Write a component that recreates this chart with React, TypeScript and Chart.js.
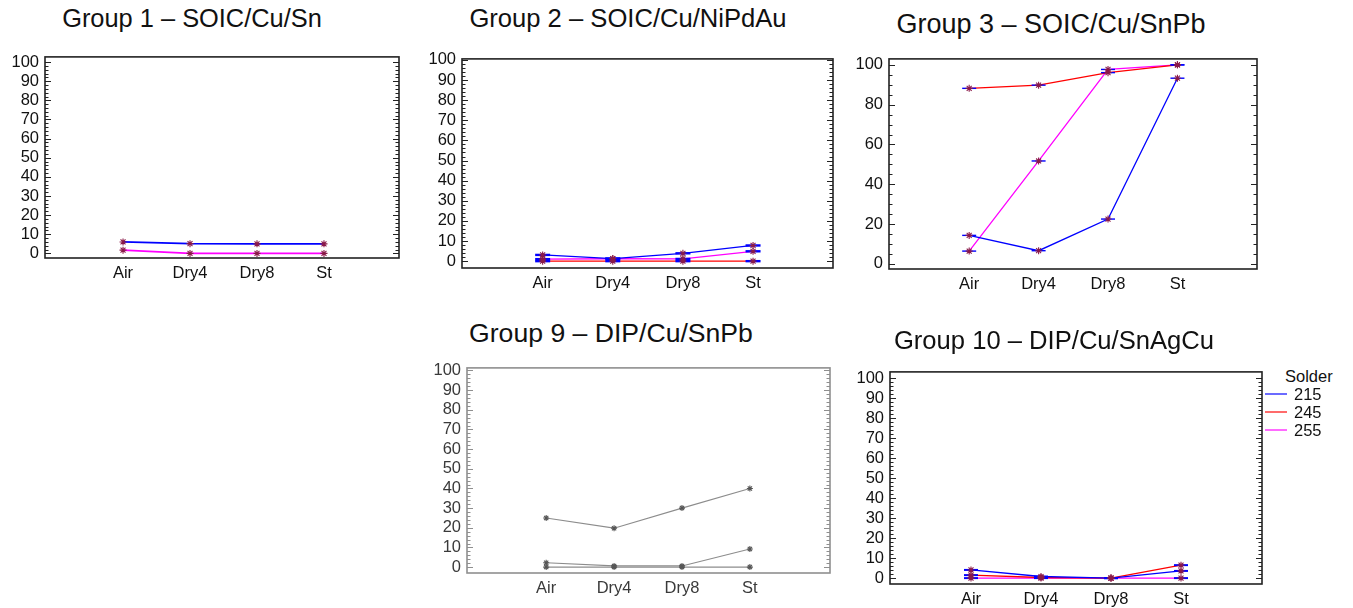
import React, { useEffect, useRef } from "react";
import { Chart, registerables } from "chart.js";

Chart.register(...registerables);

// ---------- data ----------
const categories = ["Air", "Dry4", "Dry8", "St"];
const solders = ["215", "245", "255"];

const yTicks10 = [0, 10, 20, 30, 40, 50, 60, 70, 80, 90, 100];
const yTicks20 = [0, 20, 40, 60, 80, 100];

const g1_215 = [6.0, 5.1, 5.0, 5.0];
const g1_255 = [1.7, 0, 0, 0];

const g2_215 = [3.1, 1.3, 3.9, 7.8];
const g2_245 = [0, 0, 0, 0];
const g2_255 = [1.0, 1.2, 1.1, 4.9];

const g3_215 = [14.3, 6.6, 22.5, 93.3];
const g3_245 = [88.2, 89.8, 96.1, 100];
const g3_255 = [6.4, 51.7, 97.7, 100];

const g9_215 = [25, 19.8, 30, 40];
const g9_245 = [2.2, 0.6, 0.6, 9.2];
const g9_255 = [0, 0, 0, 0];

const g10_215 = [4.1, 0.8, 0, 3.6];
const g10_245 = [1.5, 0.3, 0, 6.5];
const g10_255 = [0, 0, 0, 0];

// ---------- styling ----------
const FONT = "'Liberation Sans', Arial, Helvetica, sans-serif";
const BLUE = "#0000ff";
const RED = "#ff0000";
const MAGENTA = "#ff00ff";
const L = 44, T = 12, R = 12, B = 30;

const framePlugin = {
  id: "frameTicks",
  afterDraw(chart: any, _args: any, opts: any) {
    const { ctx, chartArea: a, scales } = chart;
    const y = scales.y;
    ctx.save();
    ctx.strokeStyle = opts.color;
    ctx.lineWidth = opts.width;
    ctx.strokeRect(a.left, a.top, a.right - a.left, a.bottom - a.top);
    ctx.lineWidth = 1;
    ctx.beginPath();
    for (let v = 0; v <= 100 + 1e-9; v += opts.minor) {
      const py = Math.round(y.getPixelForValue(v)) + 0.5;
      const major = Math.abs(v % opts.major) < 1e-6;
      const len = major ? 6 : 3.5;
      ctx.moveTo(a.left, py);
      ctx.lineTo(a.left + len, py);
      ctx.moveTo(a.right, py);
      ctx.lineTo(a.right - len, py);
    }
    ctx.stroke();
    ctx.restore();
  },
};

type Series = { values: number[]; color: string };
type PanelCfg = {
  box: { l: number; t: number; r: number; b: number };
  xMin: number; xMax: number; yMin: number; yMax: number;
  yTicks: number[]; major: number; minor: number;
  series: Series[];
  lineWidth: number;
  capR: number; capW: number; capColor: string;
  markerColor: string; markerR: number;
  frameColor: string; textColor: string;
};

function buildConfig(p: PanelCfg): any {
  const datasets: any[] = [];
  p.series.forEach((s, si) => {
    const pts = s.values.map((v, i) => ({ x: i, y: v }));
    datasets.push({
      label: solders[si], data: pts, borderColor: s.color, borderWidth: p.lineWidth,
      pointRadius: 0, fill: false, tension: 0, order: 3,
    });
    if (p.capR > 0) {
      datasets.push({
        data: pts, showLine: false, pointStyle: "line", pointRadius: p.capR,
        pointBorderColor: p.capColor, pointBorderWidth: p.capW, order: 2,
      });
    }
    datasets.push({
      data: pts, showLine: false, pointStyle: "star", pointRadius: p.markerR,
      pointBorderColor: p.markerColor, pointBorderWidth: 1.1, order: 1,
    });
  });
  const font = { family: FONT, size: 16.5 };
  return {
    type: "line",
    data: { datasets },
    options: {
      responsive: false,
      animation: false,
      devicePixelRatio: 1,
      events: [],
      layout: { padding: { top: T, right: R, left: 0, bottom: 0 } },
      plugins: {
        legend: { display: false },
        tooltip: { enabled: false },
        frameTicks: { color: p.frameColor, width: 1.6, major: p.major, minor: p.minor },
      },
      scales: {
        x: {
          type: "linear", min: p.xMin, max: p.xMax,
          grid: { display: false, drawTicks: false },
          border: { display: false },
          ticks: {
            font, color: p.textColor, padding: 6, autoSkip: false, maxRotation: 0,
            callback: (v: number) => categories[v] ?? "",
          },
          afterBuildTicks: (s: any) => { s.ticks = categories.map((_, i) => ({ value: i })); },
          afterFit: (s: any) => { s.height = B; },
        },
        y: {
          type: "linear", min: p.yMin, max: p.yMax,
          grid: { display: false, drawTicks: false },
          border: { display: false },
          ticks: { font, color: p.textColor, padding: 6, autoSkip: false },
          afterBuildTicks: (s: any) => { s.ticks = p.yTicks.map((v) => ({ value: v })); },
          afterFit: (s: any) => { s.width = L; },
        },
      },
    },
    plugins: [framePlugin],
  };
}

function Panel({ p }: { p: PanelCfg }) {
  const ref = useRef<HTMLCanvasElement>(null);
  const w = p.box.r - p.box.l + L + R;
  const h = p.box.b - p.box.t + T + B;
  useEffect(() => {
    const chart = new Chart(ref.current as HTMLCanvasElement, buildConfig(p));
    return () => chart.destroy();
  }, []);
  return (
    <canvas
      ref={ref}
      width={w}
      height={h}
      style={{ position: "absolute", left: p.box.l - L, top: p.box.t - T, width: w, height: h }}
    />
  );
}

const base = {
  lineWidth: 1.3, capW: 1.6, capColor: BLUE, markerColor: "#8b1a48", markerR: 3.5,
  frameColor: "#222", textColor: "#111", major: 10, minor: 2, yTicks: yTicks10,
};

const panels: PanelCfg[] = [
  {
    ...base, box: { l: 45, t: 53, r: 399, b: 258 },
    xMin: -1.165, xMax: 4.12, yMin: -2.4, yMax: 102.7,
    series: [{ values: g1_215, color: BLUE }, { values: g1_255, color: MAGENTA }],
    lineWidth: 1.8, capR: 0,
  },
  {
    ...base, box: { l: 462, t: 55, r: 833, b: 268 },
    xMin: -1.15, xMax: 4.14, yMin: -3.4, yMax: 100.5,
    series: [{ values: g2_215, color: BLUE }, { values: g2_245, color: RED }, { values: g2_255, color: MAGENTA }],
    capR: 7.5, capW: 2.4,
  },
  {
    ...base, box: { l: 889, t: 55, r: 1257, b: 269 },
    xMin: -1.155, xMax: 4.146, yMin: -2.6, yMax: 103,
    yTicks: yTicks20, major: 20, minor: 5,
    series: [{ values: g3_215, color: BLUE }, { values: g3_245, color: RED }, { values: g3_255, color: MAGENTA }],
    capR: 7, capW: 1.4,
  },
  {
    ...base, box: { l: 467, t: 364, r: 830, b: 573 },
    xMin: -1.166, xMax: 4.18, yMin: -3, yMax: 101.3,
    series: [{ values: g9_215, color: "#8c8c8c" }, { values: g9_245, color: "#8c8c8c" }, { values: g9_255, color: "#8c8c8c" }],
    lineWidth: 1.1, capR: 0, markerColor: "#555", markerR: 3,
    frameColor: "#8f8f8f", textColor: "#3a3a3a",
  },
  {
    ...base, box: { l: 890, t: 368, r: 1262, b: 584 },
    xMin: -1.157, xMax: 4.157, yMin: -2.95, yMax: 103.3,
    series: [{ values: g10_215, color: BLUE }, { values: g10_245, color: RED }, { values: g10_255, color: MAGENTA }],
    capR: 7, capW: 2,
  },
];

const titles = [
  { text: "Group 1 – SOIC/Cu/Sn", cx: 192, cy: 18, size: 25.4 },
  { text: "Group 2 – SOIC/Cu/NiPdAu", cx: 628, cy: 18, size: 25.6 },
  { text: "Group 3 – SOIC/Cu/SnPb", cx: 1051, cy: 24, size: 27 },
  { text: "Group 9 – DIP/Cu/SnPb", cx: 611, cy: 333, size: 26.6 },
  { text: "Group 10 – DIP/Cu/SnAgCu", cx: 1054, cy: 340, size: 25.6 },
];

const legendColors = ["#6b6bff", "#ff6b6b", "#ff6bff"];

export default function App() {
  return (
    <div
      style={{
        position: "absolute", left: 0, top: 0, width: 1353, height: 608,
        background: "#fff", overflow: "hidden", fontFamily: FONT,
      }}
    >
      {panels.map((p, i) => (
        <Panel key={i} p={p} />
      ))}
      {titles.map((t, i) => (
        <div
          key={i}
          style={{
            position: "absolute", left: t.cx - 250, width: 500, top: t.cy - 15,
            height: 30, lineHeight: "30px", textAlign: "center", fontSize: t.size, color: "#111",
            whiteSpace: "nowrap",
          }}
        >
          {t.text}
        </div>
      ))}
      <div style={{ position: "absolute", left: 1285, top: 367, fontSize: 16.5, lineHeight: "18px", color: "#111" }}>
        Solder
      </div>
      {solders.map((s, i) => (
        <React.Fragment key={s}>
          <div
            style={{
              position: "absolute", left: 1265, width: 22, top: 393 + i * 17.8, height: 2,
              background: legendColors[i],
            }}
          />
          <div
            style={{
              position: "absolute", left: 1294, top: 385 + i * 17.8, fontSize: 16.5,
              lineHeight: "18px", color: "#111",
            }}
          >
            {s}
          </div>
        </React.Fragment>
      ))}
    </div>
  );
}
